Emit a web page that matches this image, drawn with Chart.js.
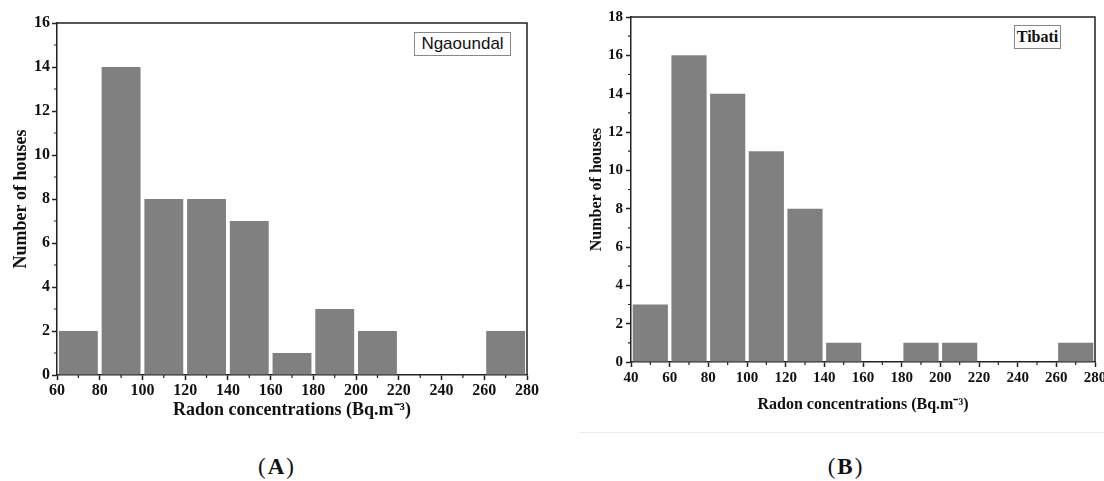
<!DOCTYPE html>
<html><head><meta charset="utf-8">
<script src="https://cdn.jsdelivr.net/npm/chart.js@4.4.1/dist/chart.umd.min.js"></script>
<style>
html,body{margin:0;padding:0;background:#fff;width:1104px;height:481px;overflow:hidden;position:relative}
canvas{position:absolute;top:0}
#cA{left:0}
#cB{left:560px}
.leg{position:absolute;border:1px solid #888;background:#fff;box-sizing:border-box;display:flex;align-items:center;justify-content:center;color:#111;white-space:nowrap}
#legA{left:414px;top:32px;width:97px;height:24px;font:17px 'Liberation Sans',Arial,sans-serif}
#legB{left:1014px;top:25px;width:47px;height:24px;font:bold 16px 'Liberation Serif',serif}
.cap{position:absolute;top:454px;font:23px 'Liberation Serif',serif;color:#111;transform:translateX(-50%);letter-spacing:2px}
#sep{position:absolute;left:579px;top:432px;width:525px;height:1px;background:#ececec}
</style>
</head><body>
<canvas id="cA" width="560" height="421"></canvas>
<canvas id="cB" width="544" height="414"></canvas>
<div id="legA" class="leg">Ngaoundal</div>
<div id="legB" class="leg">Tibati</div>
<div id="sep"></div>
<div class="cap" style="left:277px">(<b>A</b>)</div>
<div class="cap" style="left:846px">(<b>B</b>)</div>
<script>
// ---- data ----
const binCentersA = [70, 90, 110, 130, 150, 170, 190, 210, 230, 250, 270];
const countsA     = [2, 14, 8, 8, 7, 1, 3, 2, 0, 0, 2];
const binCentersB = [50, 70, 90, 110, 130, 150, 170, 190, 210, 230, 250, 270];
const countsB     = [3, 16, 14, 11, 8, 1, 0, 1, 1, 0, 0, 1];
const xRangeA = [60, 280];
const yRangeA = [0, 16];
const xRangeB = [40, 280];
const yRangeB = [0, 18];
const xTitle = 'Radon concentrations (Bq.m\u207B\u00B3)';
const yTitle = 'Number of houses';

Chart.defaults.font.family = "'Liberation Serif','Times New Roman',serif";
Chart.defaults.color = '#111';

const framePlugin = {
  id: 'frame',
  afterDraw(chart, args, opts) {
    const {ctx, chartArea: a, scales: {x, y}} = chart;
    ctx.save();
    ctx.strokeStyle = '#222';
    ctx.lineWidth = 1.5;
    ctx.beginPath();
    ctx.moveTo(a.left, a.top); ctx.lineTo(a.right, a.top); ctx.lineTo(a.right, a.bottom);
    ctx.stroke();
    ctx.lineWidth = 1.2;
    ctx.beginPath();
    for (let v = x.min + 10; v < x.max; v += 20) {
      const px = x.getPixelForValue(v);
      ctx.moveTo(px, a.bottom); ctx.lineTo(px, a.bottom + 3);
    }
    for (let v = y.min + 1; v < y.max; v += 2) {
      const py = y.getPixelForValue(v);
      ctx.moveTo(a.left, py); ctx.lineTo(a.left - 3, py);
    }
    ctx.stroke();
    ctx.restore();
  }
};

function makeChart(id, centers, counts, xr, yr, c) {
  const data = centers.map((v, i) => ({x: v, y: counts[i]}));
  return new Chart(document.getElementById(id), {
    type: 'bar',
    data: {datasets: [{data, backgroundColor: '#808080', borderWidth: 0,
      barPercentage: 0.91, categoryPercentage: 1.0}]},
    options: {
      responsive: false, animation: false, devicePixelRatio: 1,
      layout: {padding: {left: c.padL, right: c.padR, top: c.padT, bottom: 0}},
      plugins: {legend: {display: false}, tooltip: {enabled: false}},
      scales: {
        x: {
          type: 'linear', min: xr[0], max: xr[1], offset: false,
          ticks: {stepSize: 20, autoSkip: false, maxRotation: 0, padding: c.xPad,
            font: {size: c.tickSize, weight: 'bold'}, color: '#111'},
          grid: {display: true, offset: false, drawOnChartArea: false, drawTicks: true,
            tickLength: 5, tickColor: '#222', tickWidth: 1.5},
          border: {display: true, color: '#222', width: 1.5},
          title: {display: true, text: xTitle, padding: 0, color: '#111',
            font: {size: c.titleSize, weight: 'bold'}},
          afterFit(s) { s.height = c.xH; s.paddingLeft = 0; s.paddingRight = 0; }
        },
        y: {
          min: yr[0], max: yr[1],
          ticks: {stepSize: 2, padding: c.yPad, font: {size: c.tickSize, weight: 'bold'}, color: '#111'},
          grid: {display: true, drawOnChartArea: false, drawTicks: true,
            tickLength: 5, tickColor: '#222', tickWidth: 1.5},
          border: {display: true, color: '#222', width: 1.5},
          title: {display: true, text: yTitle, padding: 0, color: '#111',
            font: {size: c.titleSize, weight: 'bold'}},
          afterFit(s) { s.width = c.yW; s.paddingTop = 0; s.paddingBottom = 0; }
        }
      }
    },
    plugins: [framePlugin]
  });
}

makeChart('cA', binCentersA, countsA, xRangeA, yRangeA,
  {padL: 11, padR: 33, padT: 23, xH: 46, yW: 46, tickSize: 16, titleSize: 18, xPad: 1, yPad: 2});
makeChart('cB', binCentersB, countsB, xRangeB, yRangeB,
  {padL: 27, padR: 9, padT: 17, xH: 52, yW: 44, tickSize: 15, titleSize: 16, xPad: 2, yPad: 3});
</script>
</body></html>
